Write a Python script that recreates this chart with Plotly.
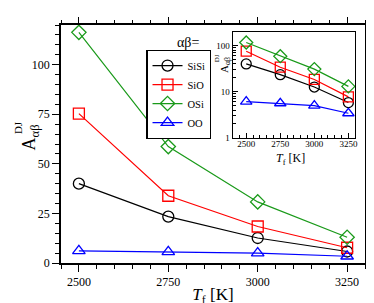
import plotly.graph_objects as go

temps = [2500, 2750, 3000, 3250]
sisi = [40.0, 23.4, 12.6, 5.8]
sio = [75.3, 33.9, 18.4, 7.7]
osi = [116.3, 58.7, 30.8, 13.0]
oo = [6.1, 5.6, 5.0, 3.4]
names = ["SiSi", "SiO", "OSi", "OO"]
colors = ["black", "red", "#1a9a1a", "blue"]
symbols = ["circle-open", "square-open", "diamond-open", "triangle-up-open"]
series = [sisi, sio, osi, oo]
xticks = [2500, 2750, 3000, 3250]
yticks = [0, 25, 50, 75, 100]

FONT = "Liberation Serif"
fig = go.Figure()

for nm, ys, c, s in zip(names, series, colors, symbols):
    fig.add_trace(go.Scatter(x=temps, y=ys, name=nm, mode="lines+markers",
                             line=dict(color=c, width=1.2),
                             marker=dict(symbol=s, size=11, color=c, line=dict(width=1.3, color=c)),
                             xaxis="x", yaxis="y"))
for nm, ys, c, s in zip(names, series, colors, symbols):
    fig.add_trace(go.Scatter(x=temps, y=ys, name=nm, mode="lines+markers", showlegend=False,
                             line=dict(color=c, width=1.2),
                             marker=dict(symbol=s, size=10, color=c, line=dict(width=1.3, color=c)),
                             xaxis="x2", yaxis="y2"))

L, R, T, B = 53, 11, 10, 44
W, H = 374, 303
pw, ph = W - L - R, H - T - B

def px(xp):
    return (xp - L) / pw

def py(yp):
    return (H - B - yp) / ph

tick_common = dict(tickcolor="black", showgrid=False, zeroline=False)

fig.update_layout(
    width=W, height=H, margin=dict(l=L, r=R, t=T, b=B),
    paper_bgcolor="white", plot_bgcolor="white",
    font=dict(family=FONT, size=12, color="black"),
    showlegend=True,
    legend=dict(x=px(140), y=py(36), xanchor="left", yanchor="top",
                bordercolor="black", borderwidth=1.2, bgcolor="white",
                font=dict(family=FONT, size=10.5), itemwidth=30,
                tracegroupgap=0),
    xaxis=dict(range=[2450, 3300], tickvals=xticks,
               ticks="outside", ticklen=7, tickwidth=1.3,
               minor=dict(dtick=50, ticks="outside", ticklen=4, tickwidth=1.2, tickcolor="black"),
               showline=True, linewidth=1.6, linecolor="black", mirror=True,
               tickfont=dict(family=FONT, size=12),
               title=dict(text="<i>T</i><sub>f</sub> [K]", font=dict(family=FONT, size=17), standoff=0),
               **tick_common),
    yaxis=dict(range=[0, 120], tickvals=yticks,
               ticks="outside", ticklen=7, tickwidth=1.3,
               minor=dict(dtick=5, ticks="outside", ticklen=4, tickwidth=1.2, tickcolor="black"),
               showline=True, linewidth=1.6, linecolor="black", mirror=True,
               tickfont=dict(family=FONT, size=12), **tick_common),
    xaxis3=dict(overlaying="x", side="top", range=[2450, 3300], tickvals=xticks,
                ticks="outside", ticklen=7, tickwidth=1.3, showticklabels=False,
                minor=dict(dtick=50, ticks="outside", ticklen=4, tickwidth=1.2, tickcolor="black"),
                **tick_common),
    yaxis3=dict(overlaying="y", side="right", range=[0, 120], tickvals=yticks,
                ticks="outside", ticklen=7, tickwidth=1.3, showticklabels=False,
                minor=dict(dtick=5, ticks="outside", ticklen=4, tickwidth=1.2, tickcolor="black"),
                **tick_common),
    xaxis2=dict(domain=[px(228), px(353)], anchor="y2", range=[2400, 3300],
                tickvals=xticks,
                ticks="inside", ticklen=5, tickwidth=1,
                minor=dict(dtick=50, ticks="inside", ticklen=3, tickwidth=1, tickcolor="black"),
                showline=True, linewidth=1.2, linecolor="black", mirror=True,
                tickfont=dict(family=FONT, size=9), ticklabelstandoff=-3, **tick_common),
    yaxis2=dict(domain=[py(128), py(17)], anchor="x2", type="log", range=[0, 2.3],
                tickvals=[1, 10, 100], ticktext=["1", "10", "100"],
                ticks="inside", ticklen=5, tickwidth=1,
                minor=dict(ticks="inside", ticklen=3, tickwidth=1, tickcolor="black",
                           tickvals=[2, 3, 4, 5, 6, 7, 8, 9, 20, 30, 40, 50, 60, 70, 80, 90, 200]),
                showline=True, linewidth=1.2, linecolor="black", mirror=True,
                tickfont=dict(family=FONT, size=9), **tick_common),
)

# invisible helper trace so the mirror axes render
fig.add_trace(go.Scatter(x=[temps[0]], y=[sisi[0]], xaxis="x3", yaxis="y3", mode="markers",
                         marker=dict(opacity=0), showlegend=False, hoverinfo="skip"))

fig.add_shape(type="rect", xref="paper", yref="paper", x0=px(228), x1=px(353), y0=py(128), y1=py(17),
              fillcolor="white", line=dict(width=0), layer="below")

ann = [
    dict(text="A<sub>αβ</sub>", x=px(22), y=py(128), textangle=-90, size=18),
    dict(text="DJ", x=px(9), y=py(117), textangle=-90, size=11),
    dict(text="αβ=", x=px(182), y=py(28), size=14),
    dict(text="A<sub>αβ</sub>", x=px(220), y=py(52), textangle=-90, size=11),
    dict(text="DJ", x=px(213), y=py(45), textangle=-90, size=7),
    dict(text="<i>T</i><sub>f</sub> [K]", x=px(287), y=py(150), size=12),
]
for a in ann:
    fig.add_annotation(xref="paper", yref="paper", showarrow=False,
                       font=dict(family=FONT, size=a["size"], color="black"),
                       text=a["text"], x=a["x"], y=a["y"], textangle=a.get("textangle", 0),
                       xanchor="center", yanchor="middle")

fig.write_html("out.html")
